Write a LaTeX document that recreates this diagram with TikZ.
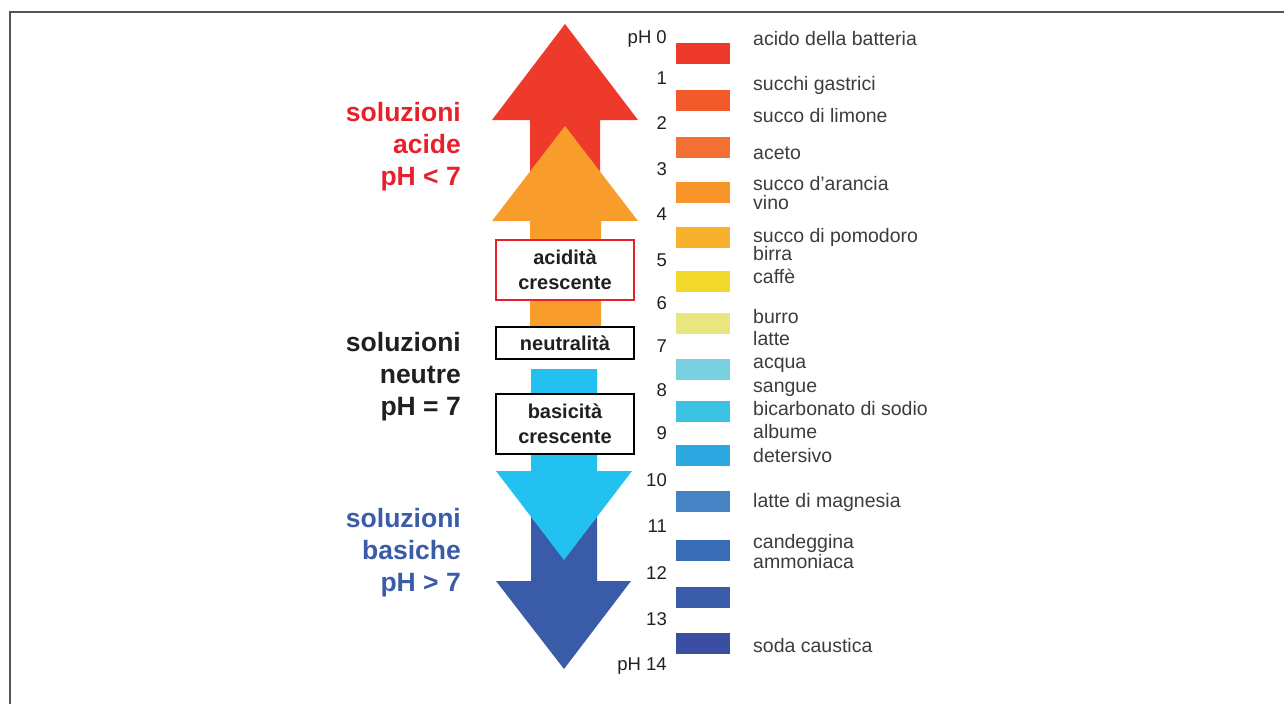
\documentclass[tikz,border=0pt]{standalone}
\usepackage{fontspec}
\setmainfont{Liberation Sans}
\definecolor{frame}{HTML}{555555}
\definecolor{ink}{HTML}{231F20}
\definecolor{labgray}{HTML}{3C3C3C}
\definecolor{acidred}{HTML}{E8202A}
\definecolor{baseblue}{HTML}{3A5BA8}
\definecolor{arrred}{HTML}{EE3A2B}
\definecolor{arrorange}{HTML}{F89C2C}
\definecolor{arrcyan}{HTML}{22C1F0}
\definecolor{arrblue}{HTML}{3A5BA8}
\definecolor{ph0}{HTML}{EE3A2B}
\definecolor{ph1}{HTML}{F15A2B}
\definecolor{ph2}{HTML}{F37032}
\definecolor{ph3}{HTML}{F7952B}
\definecolor{ph4}{HTML}{F7B12C}
\definecolor{ph5}{HTML}{F2D82B}
\definecolor{ph6}{HTML}{E9E57F}
\definecolor{ph7}{HTML}{78D0E0}
\definecolor{ph8}{HTML}{3BC3E3}
\definecolor{ph9}{HTML}{2EA8E0}
\definecolor{ph10}{HTML}{4683C5}
\definecolor{ph11}{HTML}{3A6BB5}
\definecolor{ph12}{HTML}{3A5BA8}
\definecolor{ph13}{HTML}{3A4FA2}
\begin{document}
\begin{tikzpicture}[x=1pt,y=-1pt,
  lab/.style={anchor=base west,inner sep=0pt,text=labgray,font=\fontsize{19.5}{19.5}\selectfont},
  num/.style={anchor=base east,inner sep=0pt,text=ink,font=\fontsize{18.5}{18.5}\selectfont},
  sol/.style={anchor=east,inner sep=0pt,align=right,font=\bfseries\fontsize{26.5}{32}\selectfont},
  tag/.style={draw,fill=white,line width=2pt,minimum width=138pt,inner sep=0pt,align=center,text=ink,font=\bfseries\fontsize{20}{25}\selectfont},
  swatch/.style={minimum width=54pt,minimum height=21pt,inner sep=0pt}]
\useasboundingbox (0,0) rectangle (1284,704);
\draw[line width=2pt,frame] (1284,12) -- (10,12) -- (10,704);
% arrows
\fill[arrred] (530,175) -- (530,120) -- (492,120) -- (565,24) -- (638,120) -- (600,120) -- (600,175) -- cycle;
\fill[arrorange] (530,327) -- (530,221) -- (492,221) -- (565,126) -- (638,221) -- (601,221) -- (601,327) -- cycle;
\fill[arrblue] (531,480) -- (531,581) -- (496,581) -- (564,669) -- (631,581) -- (597,581) -- (597,480) -- cycle;
\fill[arrcyan] (531,369) -- (531,471) -- (496,471) -- (564,560) -- (632,471) -- (597,471) -- (597,369) -- cycle;
% boxes
\node[tag,draw=acidred,minimum height=60pt] (acid) at (565,270) {acidità\\crescente};
\node[tag,minimum height=32pt] (neutral) at (565,343) {neutralità};
\node[tag,minimum height=60pt] (basic) at (565,424) {basicità\\crescente};
% left
\node[sol,text=acidred] (acide) at (461,147) {soluzioni\\acide\\pH < 7};
\node[sol,text=ink] (neutre) at (461,377) {soluzioni\\neutre\\pH = 7};
\node[sol,text=baseblue] (basiche) at (461,553) {soluzioni\\basiche\\pH > 7};
% scale
\foreach \t [count=\i from 0] in {43,90,137,182,227,271,313,359,401,445,491,540,587,633}
  \node[swatch,fill=ph\i] (s\i) at (703,\t+10.5) {};
\foreach \n/\y [count=\i from 0] in {pH 0/43,1/84,2/129,3/175,4/220,5/266,6/309,7/352,8/396,9/439,10/486,11/532,12/579,13/625,pH 14/670}
  \node[num] (n\i) at (667,\y) {\n};
\foreach \s/\y [count=\i] in {acido della batteria/45,succhi gastrici/90,succo di limone/122,aceto/159,succo d’arancia/190,vino/209,succo di pomodoro/242,birra/260,caffè/283,burro/323,latte/345,acqua/368,sangue/392,bicarbonato di sodio/415,albume/438,detersivo/462,latte di magnesia/507,candeggina/548,ammoniaca/568,soda caustica/652}
  \node[lab] (l\i) at (753,\y) {\s};
\end{tikzpicture}
\end{document}
